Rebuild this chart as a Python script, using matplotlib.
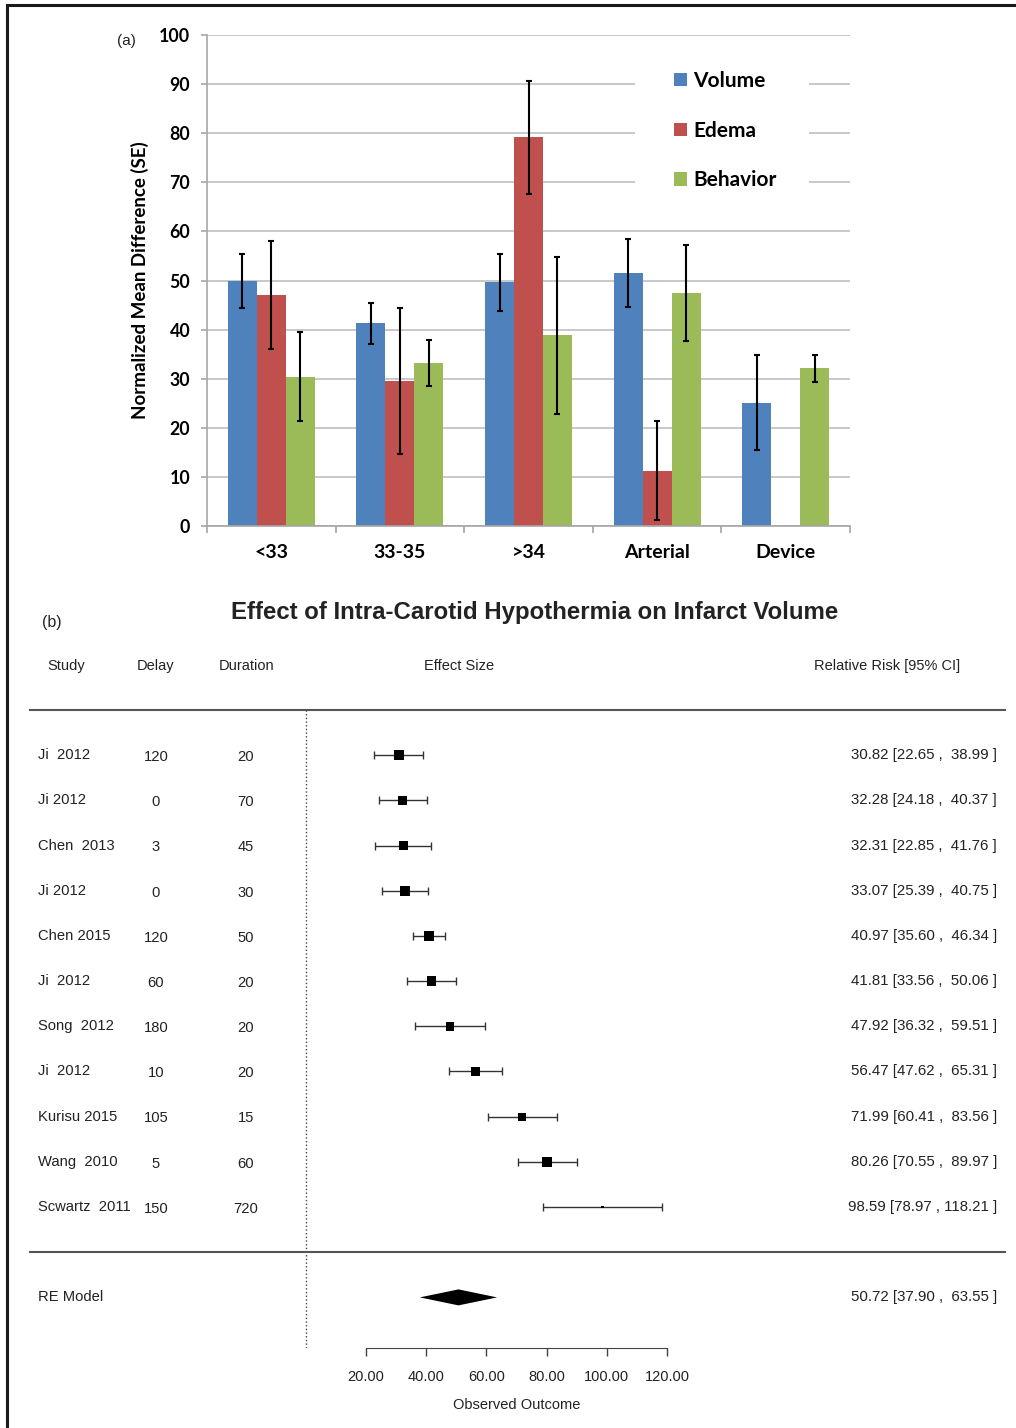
import numpy as np
import matplotlib
matplotlib.use("Agg")
import matplotlib.pyplot as plt
import matplotlib.transforms as mtransforms
from matplotlib.lines import Line2D
from matplotlib.patches import Patch, Rectangle

# ---- panel (a) data: normalized mean difference by group ----
groups = ['<33', '33-35', '>34', 'Arterial', 'Device']
series = ['Volume', 'Edema', 'Behavior']
volume = [49.8, 41.3, 49.6, 51.6, 25.1]
volume_err = [5.5, 4.2, 5.8, 6.9, 9.7]
edema = [47.1, 29.5, 79.2, 11.3, np.nan]
edema_err = [11.0, 14.9, 11.5, 10.0, np.nan]
behavior = [30.4, 33.2, 38.8, 47.5, 32.1]
behavior_err = [9.1, 4.6, 15.9, 9.8, 2.8]
bar_ticks = list(range(0, 101, 10))

# ---- panel (b) data: forest plot ----
studies = ['Ji  2012', 'Ji 2012', 'Chen  2013', 'Ji 2012', 'Chen 2015', 'Ji  2012',
           'Song  2012', 'Ji  2012', 'Kurisu 2015', 'Wang  2010', 'Scwartz  2011']
delay = [120, 0, 3, 0, 120, 60, 180, 10, 105, 5, 150]
duration = [20, 70, 45, 30, 50, 20, 20, 20, 15, 60, 720]
est = [30.82, 32.28, 32.31, 33.07, 40.97, 41.81, 47.92, 56.47, 71.99, 80.26, 98.59]
ci_lo = [22.65, 24.18, 22.85, 25.39, 35.60, 33.56, 36.32, 47.62, 60.41, 70.55, 78.97]
ci_hi = [38.99, 40.37, 41.76, 40.75, 46.34, 50.06, 59.51, 65.31, 83.56, 89.97, 118.21]
re_est, re_lo, re_hi = 50.72, 37.90, 63.55
outcome_ticks = [20, 40, 60, 80, 100, 120]

# styling
colors = ['#4F81BD', '#C0504D', '#9BBB59']
box_px = [10, 9, 9, 10, 10.5, 9.5, 8.5, 9, 8, 10, 2.5]
W, H = 1016, 1428
fx = lambda x: x / W
fy = lambda y: 1 - y / H
ink = '#222222'

fig = plt.figure(figsize=(W / 100, H / 100), dpi=100)

# frame (top + left edges)
fig.add_artist(Line2D([fx(7), fx(7)], [0, fy(5)], color='#1a1a1a', lw=2.2))
fig.add_artist(Line2D([fx(7), 1], [fy(5), fy(5)], color='#1a1a1a', lw=2.2))

# ================= panel (a) =================
bold = dict(family='Lato', fontweight='bold')
ax = fig.add_axes([fx(207), fy(526), 643 / W, 491 / H])
x = np.arange(len(groups))
w = 0.225
for i, (vals, errs) in enumerate([(volume, volume_err), (edema, edema_err), (behavior, behavior_err)]):
    xs = x + (i - 1) * w
    ax.bar(xs, vals, w, color=colors[i], zorder=2)
    ax.errorbar(xs, vals, yerr=errs, fmt='none', ecolor='black', elinewidth=1.5,
                capsize=2.5, capthick=1.5, zorder=3)

ax.set_xlim(-0.5, len(groups) - 0.5)
ax.set_ylim(0, 100)
ax.set_yticks(bar_ticks)
ax.yaxis.grid(True, color='#BFBFBF', lw=1.2)
ax.set_axisbelow(True)
for s in ['top', 'right']:
    ax.spines[s].set_visible(False)
ax.spines['left'].set_color('#A6A6A6')
ax.spines['bottom'].set_color('#A6A6A6')
ax.spines['left'].set_linewidth(1.2)
ax.spines['bottom'].set_linewidth(1.2)
ax.set_xticks(x)
ax.set_xticklabels(groups, fontsize=14, **bold)
ax.set_xticks(np.arange(-0.5, len(groups)), minor=True)
ax.tick_params(axis='x', which='major', length=0, pad=13)
ax.tick_params(axis='x', which='minor', length=5, color='#A6A6A6', width=1.2)
ax.tick_params(axis='y', length=4, color='#A6A6A6', width=1.2, pad=8)
for lab in ax.get_yticklabels():
    lab.set_fontsize(12.8)
    lab.set_family('Lato')
    lab.set_fontweight('bold')
ax.set_ylabel('Normalized Mean Difference (SE)', fontsize=13.5, **bold)
ax.yaxis.set_label_coords(-0.09, 0.5)

# legend sits on a white box that breaks the gridlines
ax.add_patch(Rectangle((0.666, 0.654), 0.27, 0.305, transform=ax.transAxes,
                       facecolor='white', edgecolor='none', zorder=1))
handles = [Patch(facecolor=c, edgecolor='none') for c in colors]
ax.legend(handles, series, loc='upper left', bbox_to_anchor=(0.727, 0.927),
          frameon=False, borderpad=0, borderaxespad=0, handlelength=0.6,
          handleheight=0.6, handletextpad=0.3, labelspacing=1.43,
          prop=dict(family='Lato', weight='bold', size=15))

fig.text(fx(117), fy(41), '(a)', ha='left', va='center', fontsize=11,
         family='Liberation Sans', color=ink)

# ================= panel (b) =================
arial = dict(family='Liberation Sans', color=ink)
fig.text(fx(535), fy(613), 'Effect of Intra-Carotid Hypothermia on Infarct Volume',
         ha='center', va='center', fontsize=17.3, fontweight='bold', **arial)
fig.text(fx(42), fy(622), '(b)', ha='left', va='center', fontsize=11.5, **arial)
hdr_y = fy(666)
fig.text(fx(47), hdr_y, 'Study', ha='left', va='center', fontsize=10.5, **arial)
fig.text(fx(137), hdr_y, 'Delay', ha='left', va='center', fontsize=10.5, **arial)
fig.text(fx(219), hdr_y, 'Duration', ha='left', va='center', fontsize=10.5, **arial)
fig.text(fx(459), hdr_y, 'Effect Size', ha='center', va='center', fontsize=10.5, **arial)
fig.text(fx(960), hdr_y, 'Relative Risk [95% CI]', ha='right', va='center', fontsize=10.5, **arial)

xmin, xmax = -5, 130
px_per = 3.01
left_px = 366 + (xmin - 20) * px_per
right_px = 366 + (xmax - 20) * px_per
fax = fig.add_axes([fx(left_px), fy(1348), (right_px - left_px) / W, 638 / H])
fax.set_xlim(xmin, xmax)
fax.set_ylim(-14.12, 0)

est_a = np.array(est)
rows = -(np.arange(len(studies)) + 1)
fax.errorbar(est_a, rows, xerr=[est_a - np.array(ci_lo), np.array(ci_hi) - est_a],
             fmt='none', ecolor='#333333', elinewidth=1, capsize=3, capthick=1)
fax.scatter(est_a, rows, marker='s', s=(np.array(box_px) * 0.72) ** 2,
            color='black', zorder=3, linewidths=0)

re_y = rows[-1] - 2
h = 8 / 45.2
fax.fill([re_lo, re_est, re_hi, re_est], [re_y, re_y + h, re_y, re_y - h],
         color='black', lw=0)

fax.axvline(0, color='#444444', ls=':', lw=1)

bt = mtransforms.blended_transform_factory(fig.transFigure, fax.transData)
for yy in [0, rows[-1] - 1]:
    fax.plot([fx(30), fx(1005)], [yy, yy], transform=bt, color='#555555',
             lw=1.5, clip_on=False)

for r, s, d, du, e, lo, hi in zip(rows, studies, delay, duration, est, ci_lo, ci_hi):
    fax.text(fx(38), r, s, transform=bt, ha='left', va='center', fontsize=10.6, **arial)
    fax.text(fx(156), r - 0.04, str(d), transform=bt, ha='center', va='center',
             fontsize=10.6, **arial)
    fax.text(fx(246), r - 0.04, str(du), transform=bt, ha='center', va='center',
             fontsize=10.6, **arial)
    fax.text(fx(997), r, f'{e:.2f} [{lo:.2f} , {hi:6.2f} ]', transform=bt,
             ha='right', va='center', fontsize=10.8, **arial)
fax.text(fx(38), re_y, 'RE Model', transform=bt, ha='left', va='center',
         fontsize=10.6, **arial)
fax.text(fx(997), re_y, f'{re_est:.2f} [{re_lo:.2f} , {re_hi:6.2f} ]', transform=bt,
         ha='right', va='center', fontsize=10.8, **arial)

for s in ['top', 'right', 'left']:
    fax.spines[s].set_visible(False)
fax.spines['bottom'].set_bounds(outcome_ticks[0], outcome_ticks[-1])
fax.spines['bottom'].set_color('#444444')
fax.set_yticks([])
fax.set_xticks(outcome_ticks)
fax.set_xticklabels([f'{t:.2f}' for t in outcome_ticks], fontsize=10.5, **arial)
fax.tick_params(axis='x', length=6, width=1, color='#444444', pad=10)
fax.set_xlabel('Observed Outcome', fontsize=10.5, **arial)
fax.xaxis.set_label_coords((70 - xmin) / (xmax - xmin), -0.079)

fig.savefig('out.png', dpi=100)
